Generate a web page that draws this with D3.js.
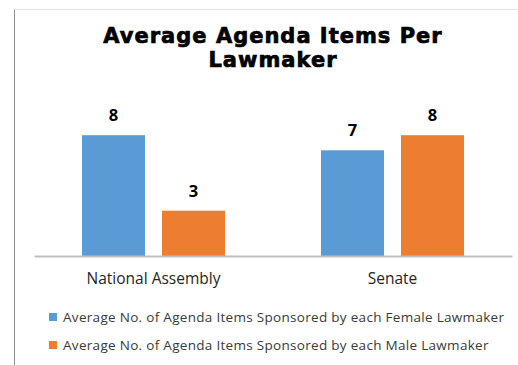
<!DOCTYPE html>
<html>
<head>
<meta charset="utf-8">
<script src="https://cdn.jsdelivr.net/npm/d3@7"></script>
<style>
  body { margin: 0; background: #fff; }
  svg { display: block; }
</style>
</head>
<body>
<svg id="svg" width="518" height="365"></svg>
<script>
var categories = ["National Assembly", "Senate"];
var seriesNames = ["Average No. of Agenda Items Sponsored by each Female Lawmaker",
                   "Average No. of Agenda Items Sponsored by each Male Lawmaker"];
var femaleValues = [8, 7];
var maleValues = [3, 8];
var colors = ["#5b9bd5", "#ed7d31"];
var titleLines = ["Average Agenda Items Per", "Lawmaker"];

var svg = d3.select("#svg"),
    width = +svg.attr("width"),
    height = +svg.attr("height");

// frame of the original chart area
svg.append("line")
    .attr("x1", 14.5).attr("x2", 14.5).attr("y1", 9).attr("y2", height)
    .attr("stroke", "#8c8c8c").attr("stroke-width", 1);
svg.append("line")
    .attr("x1", 14).attr("x2", width).attr("y1", 9.5).attr("y2", 9.5)
    .attr("stroke", "#e2e2e2").attr("stroke-width", 1);

var table = categories.map(function(c, i) {
    return { cat: c, values: [femaleValues[i], maleValues[i]] };
});

var x0 = d3.scaleBand()
    .domain(categories)
    .range([34, 512]);

var x1 = d3.scaleBand()
    .domain([0, 1])
    .range([-71.5, 71.5])
    .paddingInner(0.2125);

var y = d3.scaleLinear()
    .domain([0, 10])
    .range([256, 105]);

// title
svg.append("g").selectAll("text")
  .data(titleLines)
  .enter().append("text")
    .attr("x", 273)
    .attr("y", function(d, i) { return 43 + i * 24; })
    .attr("text-anchor", "middle")
    .attr("font-family", "DejaVu Sans")
    .attr("font-weight", "bold")
    .attr("font-size", 21)
    .attr("letter-spacing", 1)
    .attr("fill", "#000")
    .attr("stroke", "#000")
    .attr("stroke-width", 0.7)
    .text(function(d) { return d; });

var groups = svg.append("g").selectAll("g")
  .data(table)
  .enter().append("g")
    .attr("transform", function(d) { return "translate(" + (x0(d.cat) + x0.bandwidth() / 2) + ",0)"; });

groups.selectAll("rect")
  .data(function(d) { return d.values; })
  .enter().append("rect")
    .attr("x", function(d, i) { return x1(i); })
    .attr("width", x1.bandwidth())
    .attr("y", function(d) { return y(d); })
    .attr("height", function(d) { return y(0) - y(d); })
    .attr("fill", function(d, i) { return colors[i]; });

groups.selectAll("text.value")
  .data(function(d) { return d.values; })
  .enter().append("text")
    .attr("class", "value")
    .attr("x", function(d, i) { return x1(i) + x1.bandwidth() / 2; })
    .attr("y", function(d) { return y(d) - 14; })
    .attr("text-anchor", "middle")
    .attr("font-family", "Open Sans")
    .attr("font-weight", "bold")
    .attr("font-size", 16.5)
    .attr("fill", "#000")
    .text(function(d) { return d; });

// axis
var axis = svg.append("g")
    .attr("transform", "translate(0," + y(0) + ")")
    .call(d3.axisBottom(x0).tickSize(0).tickPadding(17));
axis.select(".domain").attr("stroke", "#bfbfbf").attr("stroke-width", 2);
axis.selectAll("text")
    .attr("font-family", "Open Sans")
    .attr("font-size", 15.5)
    .attr("fill", "#262626");

// legend
var legend = svg.append("g").selectAll("g")
  .data(seriesNames)
  .enter().append("g")
    .attr("transform", function(d, i) { return "translate(49," + (313 + i * 28) + ")"; });

legend.append("rect")
    .attr("width", 8).attr("height", 8)
    .attr("fill", function(d, i) { return colors[i]; });

legend.append("text")
    .attr("x", 14)
    .attr("y", 9)
    .attr("font-family", "Open Sans")
    .attr("font-size", 13.5)
    .attr("letter-spacing", 0.3)
    .attr("fill", "#3a3a3a")
    .text(function(d) { return d; });
</script>
</body>
</html>
